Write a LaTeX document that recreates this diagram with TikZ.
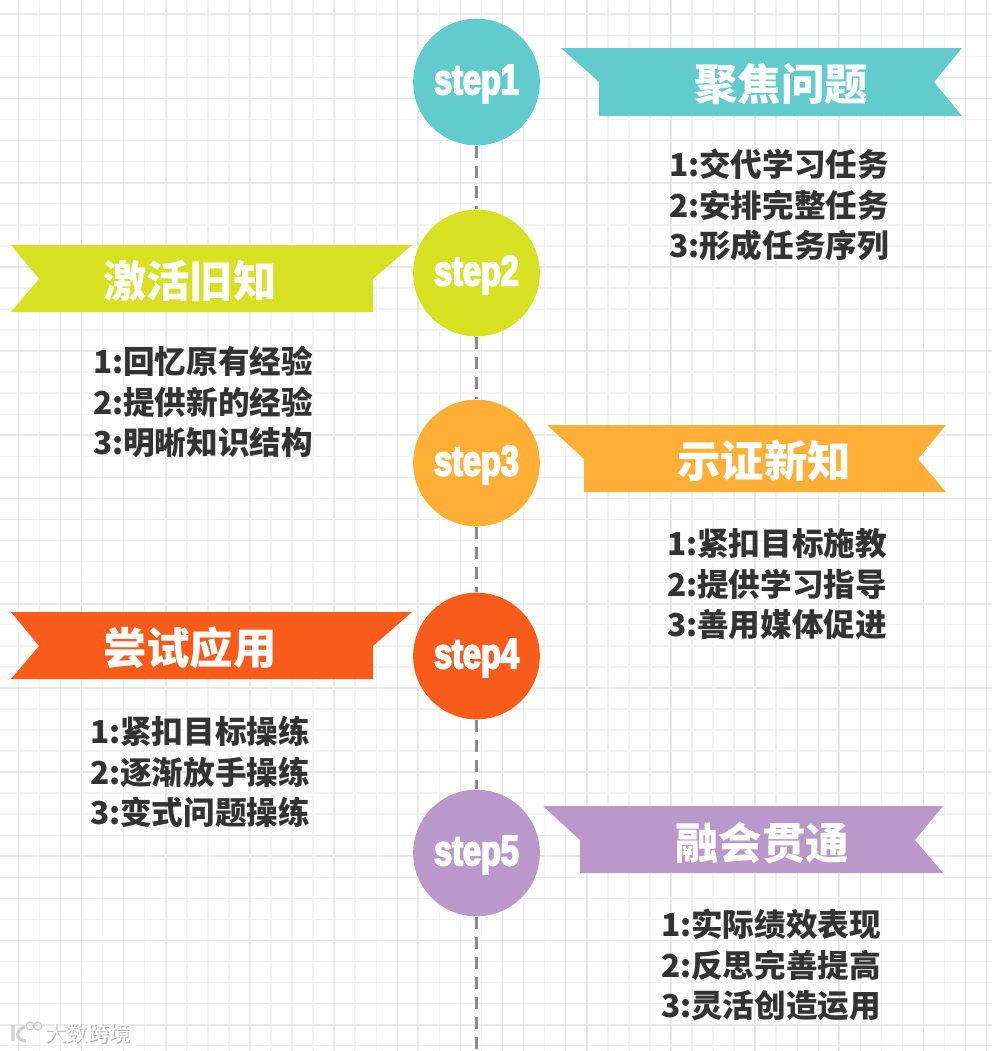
\documentclass[tikz,border=0pt]{standalone}
\usepackage{fontspec}
\newfontfamily\cjk{Noto Sans CJK SC}
\newfontfamily\stepfont[FakeStretch=0.76,FakeBold=4]{Liberation Sans Bold}
\definecolor{tealc}{HTML}{62CBCD}
\definecolor{limec}{HTML}{D7E021}
\definecolor{orangec}{HTML}{FFAE36}
\definecolor{redc}{HTML}{F95B1B}
\definecolor{purplec}{HTML}{BA98CC}
\tikzset{
    gridminor/.style={draw=black!5,line width=1.1pt},
    gridmajor/.style={draw=black!9,line width=1.3pt},
    dashline/.style={draw=black!45,line width=1.6pt,dash pattern=on 9pt off 6pt},
    stepnode/.style={circle,minimum size=95pt,inner sep=0pt,text=white},
    steptext/.style={inner sep=0pt,text=white,font=\stepfont\fontsize{32pt}{32pt}\selectfont},
    titlenode/.style={inner sep=0pt,text=white,font=\cjk\bfseries\fontsize{32.6pt}{32.6pt}\selectfont},
    listnode/.style={inner sep=0pt,align=left,text=black!80,font=\cjk\bfseries\fontsize{23.7pt}{30.4pt}\selectfont},
}
\begin{document}
\begin{tikzpicture}[x=0.75pt,y=-0.75pt]
    \useasboundingbox (0,0) rectangle (992,1051);
    \fill[white] (0,0) rectangle (992,1051);
    % paper
    \foreach \x in {18.4,39.45,...,992} \draw[gridminor] (\x,0) -- (\x,1051);
    \foreach \y in {14.3,35.35,...,1051} \draw[gridminor] (0,\y) -- (992,\y);
    \foreach \x in {81.5,165.7,...,992} \draw[gridmajor] (\x,0) -- (\x,1051);
    \foreach \y in {14.3,98.5,...,1051} \draw[gridmajor] (0,\y) -- (992,\y);
    % ribbons
    \fill[tealc]   (561,48) -- (962,48) -- (934,82) -- (962,116) -- (599,116) -- (599,82) -- cycle;
    \fill[limec]   (412,245) -- (11,245) -- (39,279) -- (11,312) -- (373,312) -- (373,279) -- cycle;
    \fill[orangec] (547,425) -- (946,425) -- (918,459) -- (946,492) -- (584,492) -- (584,459) -- cycle;
    \fill[redc]    (412,612) -- (11,612) -- (39,646) -- (11,679) -- (373,679) -- (373,646) -- cycle;
    \fill[purplec] (543,806) -- (943,806) -- (915,840) -- (943,873) -- (580,873) -- (580,840) -- cycle;
    % steps
    \node[stepnode,fill=tealc]   (step1) at (476.5, 82) {};
    \node[stepnode,fill=limec]   (step2) at (476.5,273) {};
    \node[stepnode,fill=orangec] (step3) at (476.5,463) {};
    \node[stepnode,fill=redc]    (step4) at (476.5,656) {};
    \node[stepnode,fill=purplec] (step5) at (476.5,853) {};
    \node[steptext] (label1) at (476.5, 84) {step1};
    \node[steptext] (label2) at (476.5,275) {step2};
    \node[steptext] (label3) at (476.5,465) {step3};
    \node[steptext] (label4) at (476.5,658) {step4};
    \node[steptext] (label5) at (476.5,855) {step5};
    \coordinate (stepend) at (476.5,1051);
    \draw[dashline] (step1) -- (step2);
    \draw[dashline] (step2) -- (step3);
    \draw[dashline] (step3) -- (step4);
    \draw[dashline] (step4) -- (step5);
    \draw[dashline] (step5) -- (stepend);
    % titles
    \node[titlenode] (title1) at (781, 84) {聚焦问题};
    \node[titlenode] (title2) at (190,281) {激活旧知};
    \node[titlenode] (title3) at (764,461) {示证新知};
    \node[titlenode] (title4) at (190,648) {尝试应用};
    \node[titlenode] (title5) at (762,843) {融会贯通};
    % lists
    \node[listnode] (list1) at (779,205) {1:交代学习任务\\2:安排完整任务\\3:形成任务序列};
    \node[listnode] (list2) at (203,402) {1:回忆原有经验\\2:提供新的经验\\3:明晰知识结构};
    \node[listnode] (list3) at (777,584) {1:紧扣目标施教\\2:提供学习指导\\3:善用媒体促进};
    \node[listnode] (list4) at (200,772) {1:紧扣目标操练\\2:逐渐放手操练\\3:变式问题操练};
    \node[listnode] (list5) at (771,965) {1:实际绩效表现\\2:反思完善提高\\3:灵活创造运用};
    % watermark
    \node[inner sep=0pt,text=black!30,font=\cjk\fontsize{16pt}{16pt}\selectfont] (markshade) at (89,1034) {大数跨境};
    \node[inner sep=0pt,text=white,font=\cjk\fontsize{16pt}{16pt}\selectfont] (mark) at (88,1033) {大数跨境};
    \draw[black!18,line width=2.5pt] (13,1025) -- (13,1041) (25,1027) .. controls (15,1030) and (15,1040) .. (26,1041);
    \draw[black!18,line width=1pt] (30,1026) circle (4) (38,1026) circle (4);
\end{tikzpicture}
\end{document}
